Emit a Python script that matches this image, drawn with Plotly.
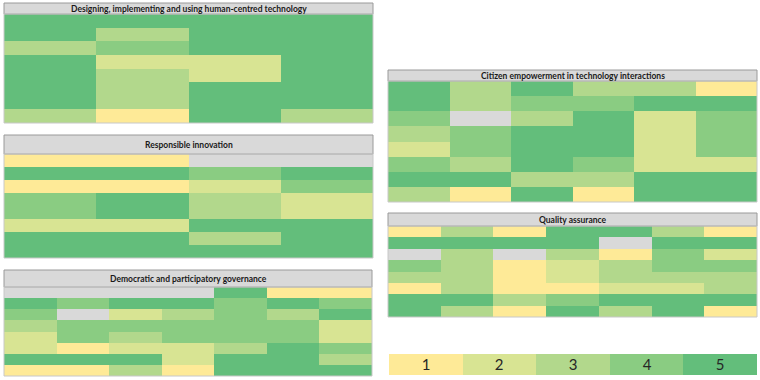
import plotly.graph_objects as go

W, H = 760, 380

# ---------------- data (1..5 rating, None = not available) ----------------
human_title = "Designing, implementing and using human-centred technology"
human_vals = [
    [5, 5, 5, 5],
    [5, 3, 5, 5],
    [3, 4, 5, 5],
    [5, 2, 2, 5],
    [5, 3, 2, 5],
    [5, 3, 5, 5],
    [5, 3, 5, 5],
    [3, 1, 5, 3],
]

resp_title = "Responsible innovation"
resp_vals = [
    [1, 1, None, None],
    [5, 5, 4, 5],
    [1, 1, 2, 4],
    [4, 5, 3, 2],
    [4, 5, 3, 2],
    [2, 2, 5, 5],
    [5, 5, 3, 5],
    [5, 5, 5, 5],
]

demo_title = "Democratic and participatory governance"
demo_vals = [
    [None, None, None, None, 5, 1, 1],
    [5, 4, 5, 5, 4, 5, 4],
    [4, None, 2, 3, 4, 3, 5],
    [3, 4, 4, 4, 4, 4, 2],
    [2, 4, 3, 4, 4, 4, 2],
    [2, 1, 2, 2, 3, 5, 4],
    [5, 5, 5, 2, 5, 5, 3],
    [1, 1, 3, 1, 5, 5, 5],
]

citizen_title = "Citizen empowerment in technology interactions"
citizen_vals = [
    [5, 3, 5, 3, 3, 1],
    [5, 3, 4, 4, 5, 5],
    [4, None, 3, 5, 2, 4],
    [3, 4, 5, 5, 2, 4],
    [2, 4, 5, 5, 2, 4],
    [4, 3, 5, 4, 2, 2],
    [5, 5, 3, 3, 5, 5],
    [3, 1, 5, 1, 5, 5],
]

quality_title = "Quality assurance"
quality_vals = [
    [1, 3, 1, 5, 5, 3, 1],
    [5, 5, 5, 5, None, 5, 5],
    [None, 3, None, 3, 1, 4, 2],
    [4, 3, 1, 2, 3, 4, 4],
    [3, 3, 1, 2, 3, 3, 3],
    [1, 3, 1, 1, 2, 2, 3],
    [5, 5, 3, 4, 5, 5, 5],
    [5, 3, 1, 5, 3, 5, 1],
]

legend_levels = [1, 2, 3, 4, 5]

level_colors = ["#FEEA97", "#D8E493", "#B2D88C", "#8ACC82", "#63BE7B"]
na_color = "#D9D9D9"

# ---------------- layout geometry (pixels) ----------------
panels = [
    # title, values, x0, x1, title_top, grid_top, grid_bottom, font size
    (human_title, human_vals, 4, 373, 3, 14, 123, 8.5),
    (resp_title, resp_vals, 4, 373, 135, 154, 258, 8.5),
    (demo_title, demo_vals, 4, 372, 270, 287, 376, 8.5),
    (citizen_title, citizen_vals, 388, 757, 70, 81, 202, 8.5),
    (quality_title, quality_vals, 388, 757, 213, 226, 317, 8.5),
]
legend_box = (389, 757, 354, 375)

def px(x):
    return x / W

def py(y):
    return 1 - y / H

colorscale = []
for i, c in enumerate(level_colors):
    colorscale.append([i / 5, c])
    colorscale.append([(i + 1) / 5, c])

fig = go.Figure()
shapes = []
annotations = []
layout_axes = {}

def add_heat(idx, z, x0, x1, y_top, y_bot, text=None):
    xa = "x" if idx == 1 else f"x{idx}"
    ya = "y" if idx == 1 else f"y{idx}"
    ncol = len(z[0])
    nrow = len(z)
    tr = go.Heatmap(
        z=z, x=list(range(ncol)), y=list(range(nrow)),
        colorscale=colorscale, zmin=0.5, zmax=5.5, showscale=False,
        xaxis=xa, yaxis=ya, hoverongaps=False,
    )
    if text is not None:
        tr.update(text=text, texttemplate="%{text}",
                  textfont=dict(family="Lato, Open Sans, sans-serif", size=15, color="#262626"))
    fig.add_trace(tr)
    kx = "xaxis" if idx == 1 else f"xaxis{idx}"
    ky = "yaxis" if idx == 1 else f"yaxis{idx}"
    layout_axes[kx] = dict(domain=[px(x0), px(x1)], range=[-0.5, ncol - 0.5],
                           visible=False, fixedrange=True, anchor=ya)
    layout_axes[ky] = dict(domain=[py(y_bot), py(y_top)], range=[nrow - 0.5, -0.5],
                           visible=False, fixedrange=True, anchor=xa)

for i, (title, vals, x0, x1, t_top, g_top, g_bot, fs) in enumerate(panels, start=1):
    add_heat(i, vals, x0, x1, g_top, g_bot)
    # title bar
    shapes.append(dict(type="rect", xref="paper", yref="paper",
                       x0=px(x0), x1=px(x1), y0=py(g_top), y1=py(t_top),
                       fillcolor=na_color, line=dict(color="#9A9A9A", width=1), layer="above"))
    # outer border of grid
    shapes.append(dict(type="rect", xref="paper", yref="paper",
                       x0=px(x0), x1=px(x1), y0=py(g_bot), y1=py(g_top),
                       fillcolor="rgba(0,0,0,0)", line=dict(color="#C8C8C8", width=1), layer="above"))
    annotations.append(dict(xref="paper", yref="paper", x=px((x0 + x1) / 2),
                            y=py((t_top + g_top) / 2), text=f"<b>{title}</b>",
                            showarrow=False, xanchor="center", yanchor="middle",
                            font=dict(family="Lato, Open Sans, sans-serif", size=fs, color="#1a1a1a")))

# legend strip
lx0, lx1, ly0, ly1 = legend_box
add_heat(6, [legend_levels], lx0, lx1, ly0, ly1, text=[[str(v) for v in legend_levels]])

fig.update_layout(
    width=W, height=H, margin=dict(l=0, r=0, t=0, b=0),
    paper_bgcolor="white", plot_bgcolor=na_color,
    shapes=shapes, annotations=annotations, showlegend=False,
    **layout_axes,
)

fig.write_html("out.html")
